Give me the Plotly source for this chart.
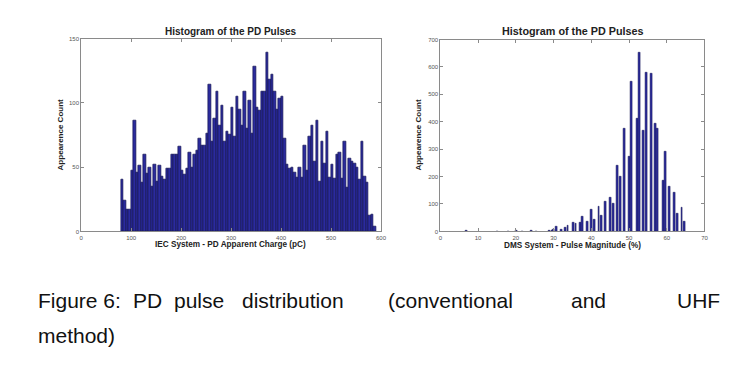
import numpy as np
import plotly.graph_objects as go

# ---- Left histogram: IEC system (bin width 5 pC, starting at 80 pC) ----
iec_bin_start = 80
iec_bin_width = 5
iec_counts = [40, 24, 17, 17, 47, 86, 46, 51, 38, 60, 45, 50, 35, 52, 39, 51, 43, 40, 49, 49,
              60, 60, 60, 66, 47, 44, 49, 61, 50, 60, 63, 72, 67, 67, 76, 114, 70, 88, 109, 82,
              98, 70, 78, 75, 96, 74, 105, 95, 82, 109, 80, 102, 76, 128, 96, 94, 109, 109, 139, 118,
              122, 109, 95, 103, 105, 72, 52, 49, 50, 46, 42, 50, 42, 67, 47, 74, 82, 54, 86, 39,
              70, 53, 78, 42, 52, 41, 60, 61, 41, 70, 34, 57, 54, 53, 50, 40, 70, 43, 38, 12,
              13, 4]

# ---- Right histogram: DMS system ----
dms_x = [6.8, 15.2, 18.0, 20.2, 21.8, 24.0, 25.5, 28.9, 29.6, 30.0, 30.8, 32.0, 33.1, 33.8,
         35.2, 35.9, 37.1, 37.6, 38.9, 40.1, 40.8, 42.0, 42.6, 43.8, 45.1, 45.8, 47.0, 47.6,
         48.8, 50.1, 50.7, 52.1, 52.7, 53.9, 54.5, 55.8, 57.0, 57.6, 59.0, 59.6, 60.8, 62.1,
         62.7, 64.0, 64.6]
dms_counts = [2, 1, 1, 3, 1, 2, 1, 4, 3, 8, 18, 7, 15, 20,
              32, 30, 33, 55, 35, 78, 42, 90, 57, 108, 124, 100, 240, 200,
              375, 273, 547, 412, 652, 368, 580, 575, 392, 375, 187, 290, 165, 140,
              67, 88, 37]

plot_title = "Histogram of the PD Pulses"
left_xlabel = "IEC System - PD Apparent Charge (pC)"
right_xlabel = "DMS System - Pulse Magnitude (%)"
ylabel = "Appearence Count"
caption_words = ["Figure 6:", "PD", "pulse", "distribution", "(conventional", "and", "UHF"]
caption_line2 = "method)"

iec_x = [iec_bin_start + iec_bin_width * (i + 0.5) for i in range(len(iec_counts))]

# page body has an 8px margin, so the figure occupies 8..755 x 8..381
OFF = 8
W, H = 755 - OFF, 381 - OFF
def px(x):
    return (x - OFF) / W
def py(y):
    return 1 - (y - OFF) / H

BAR = "#2b2b9e"
EDGE = "#141450"

fig = go.Figure()
fig.add_trace(go.Bar(x=iec_x, y=iec_counts, width=iec_bin_width,
                     marker=dict(color=BAR, line=dict(color=EDGE, width=0.7)),
                     xaxis="x", yaxis="y", showlegend=False))
fig.add_trace(go.Bar(x=dms_x, y=dms_counts, width=0.5,
                     marker=dict(color=BAR, line=dict(color=EDGE, width=0.5)),
                     xaxis="x2", yaxis="y2", showlegend=False))

axis_style = dict(showline=True, mirror="ticks", linecolor="#8a8a8a", linewidth=1,
                  ticks="inside", ticklen=3, tickcolor="#8a8a8a", showgrid=False,
                  zeroline=False, tickfont=dict(size=6, color="#555555", family="Liberation Sans"))

fig.update_layout(
    width=W, height=H,
    margin=dict(l=0, r=0, t=0, b=0),
    paper_bgcolor="white", plot_bgcolor="white",
    bargap=0,
    xaxis=dict(domain=[px(80), px(383)], range=[0, 600], dtick=100, anchor="y", **axis_style),
    yaxis=dict(domain=[py(232), py(36)], range=[0, 150], dtick=50, anchor="x", **axis_style),
    xaxis2=dict(domain=[px(443), px(710)], range=[0, 70], dtick=10, anchor="y2", **axis_style),
    yaxis2=dict(domain=[py(232), py(37)], range=[0, 700], dtick=100, anchor="x2", **axis_style),
)

ann = []
def A(text, x, y, size, **kw):
    d = dict(text=text, x=px(x), y=py(y), xref="paper", yref="paper", showarrow=False,
             font=dict(family="Liberation Sans", size=size, color="#222222"),
             xanchor=kw.pop("xanchor", "center"), yanchor="middle")
    d.update(kw)
    ann.append(d)

A("<b>%s</b>" % plot_title, 231, 29, 10)
A("<b>%s</b>" % plot_title, 577, 28, 10.8)
A("<b>%s</b>" % left_xlabel, 231, 245, 8.2)
A("<b>%s</b>" % right_xlabel, 577, 246, 8.2)
A("<b>%s</b>" % ylabel, 60, 134, 8, textangle=-90)
A("<b>%s</b>" % ylabel, 421, 134, 8, textangle=-90)

word_x = [34, 130, 172, 240, 388, 573, 680]
for wx, w in zip(word_x, caption_words):
    A(w, wx, 302, 21, xanchor="left")
A(caption_line2, 34, 338, 21, xanchor="left")
for a in ann[-8:]:
    a["font"]["color"] = "#111111"

fig.update_layout(annotations=ann)
fig.write_html("out.html")
